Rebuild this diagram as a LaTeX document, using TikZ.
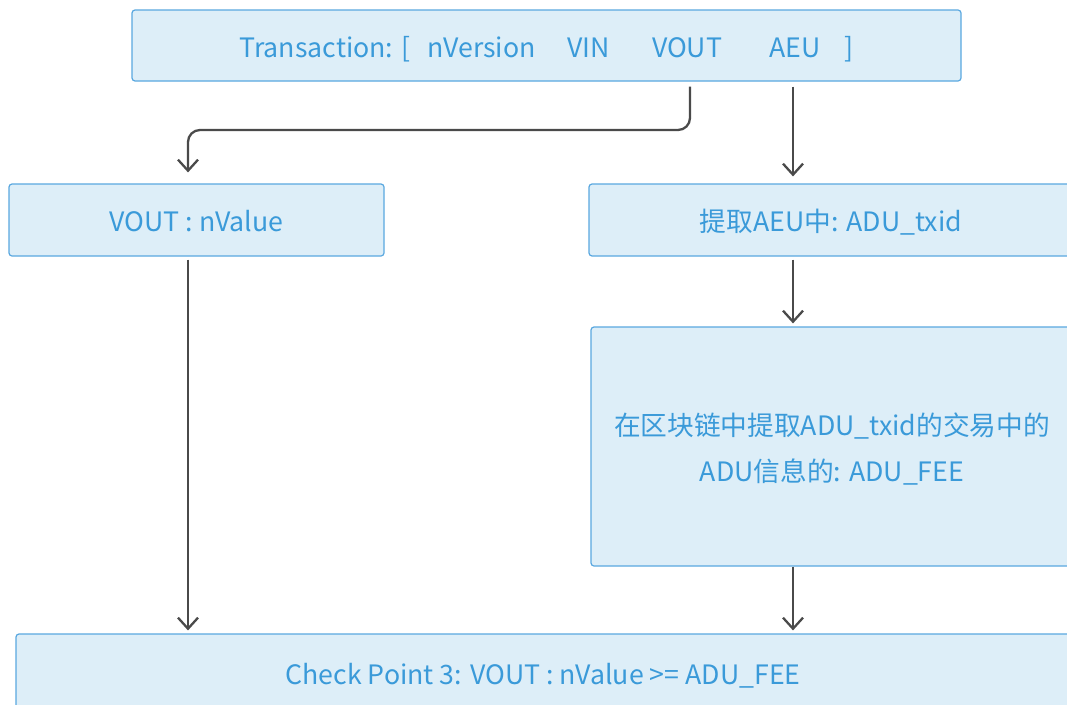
\documentclass[tikz,border=0pt]{standalone}
\usepackage{fontspec}
\setmainfont{Noto Sans CJK SC}
\usetikzlibrary{arrows.meta}
\definecolor{boxfill}{HTML}{DDEEF8}
\definecolor{boxline}{HTML}{5AA8E0}
\definecolor{boxtext}{HTML}{3A9AD9}
\definecolor{arrowgray}{HTML}{4A4A4A}
\tikzset{
  stepbox/.style={draw=boxline, fill=boxfill, line width=1.2pt, rounded corners=3pt,
    text=boxtext, font=\fontsize{26.7}{46}\selectfont, inner sep=0pt, align=center,
    text height=27pt, text depth=4pt},
  arr/.style={draw=arrowgray, line width=2.3pt,
    -{Straight Barb[length=11pt,width=20pt,line width=2.3pt]}},
}
\begin{document}
\begin{tikzpicture}[x=1pt,y=-1pt]
\useasboundingbox (0,0) rectangle (1067,704);
\fill[white] (0,0) rectangle (1067,704);

% boxes
\node[stepbox, minimum width=829pt, minimum height=71pt] (top) at (546.5,45.5)
  {Transaction: [\hspace{17pt}nVersion\hspace{32pt}VIN\hspace{42pt}VOUT\hspace{47pt}AEU\hspace{24pt}]};
\node[stepbox, minimum width=375pt, minimum height=72pt] (vout) at (196.5,220)
  {VOUT : nValue};
\node[stepbox, minimum width=484pt, minimum height=72pt] (aeu) at (831,220)
  {提取AEU中:\hspace{8pt}ADU\_txid};
\node[stepbox, minimum width=482pt, minimum height=239pt, text height=73pt] (fee) at (832,446.5)
  {在区块链中提取ADU\_txid的交易中的\\ADU信息的:\hspace{8pt}ADU\_FEE};
\node[stepbox, minimum width=1054pt, minimum height=80pt, text height=25pt] (check) at (543,674)
  {Check Point 3: VOUT : nValue >= ADU\_FEE};

% connectors
\draw[arr, rounded corners=12pt, shorten <=5pt, shorten >=11pt]
  (top.south -| 690,0) |- (188,130) -- (vout.north -| 188,0);
\draw[arr, shorten <=5pt, shorten >=7pt]
  (top.south -| 793,0) -- (aeu.north -| 793,0);
\draw[arr, shorten <=3pt, shorten >=3pt]
  (aeu.south -| 793,0) -- (fee.north -| 793,0);
\draw[arr, shorten <=3pt, shorten >=3pt]
  (vout.south -| 188,0) -- (check.north -| 188,0);
\draw[arr, shorten >=3pt]
  (fee.south -| 793,0) -- (check.north -| 793,0);
\end{tikzpicture}
\end{document}
